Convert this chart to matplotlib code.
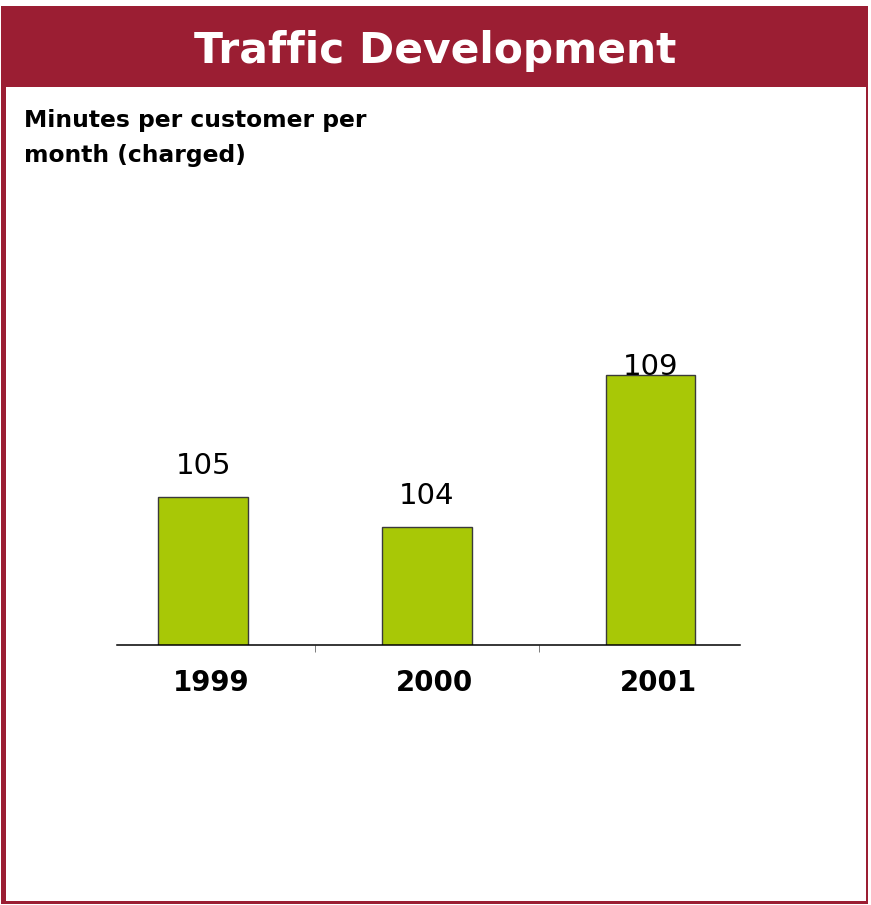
import matplotlib
matplotlib.use('Agg')
import matplotlib.pyplot as plt
from matplotlib.patches import Rectangle
from matplotlib.transforms import ScaledTranslation

years  = ['1999', '2000', '2001']
values = [105, 104, 109]

W, H = 871, 905
RED   = '#9B1E33'
GREEN = '#A8C806'
FONT  = 'DejaVu Sans'

def fx(px): return px / W
def fy(py): return 1 - py / H

fig = plt.figure(figsize=(W / 100, H / 100), dpi=100, facecolor='white')

# frame + header band
fig.patches.append(Rectangle((fx(1), fy(904)), fx(868) - fx(1), fy(6) - fy(904),
                             transform=fig.transFigure, facecolor=RED, edgecolor='none', zorder=-2))
fig.patches.append(Rectangle((fx(6), fy(901)), fx(866) - fx(6), fy(87) - fy(901),
                             transform=fig.transFigure, facecolor='white', edgecolor='none', zorder=-1))
fig.text(fx(435), fy(63), 'Traffic Development', ha='center', va='baseline',
         fontsize=30.5, fontweight='bold', color='white', family=FONT)
fig.text(fx(24), fy(127), 'Minutes per customer per', ha='left', va='baseline',
         fontsize=16.8, fontweight='bold', color='black', family=FONT)
fig.text(fx(24), fy(162), 'month (charged)', ha='left', va='baseline',
         fontsize=16.8, fontweight='bold', color='black', family=FONT)

ax = fig.add_axes([fx(117), fy(645), fx(740) - fx(117), fy(345) - fy(645)])
ax.set_zorder(2)
ax.patch.set_alpha(0)
x = range(len(years))
ax.bar(x, values, width=0.4, color=GREEN, edgecolor='#3A3A3A', linewidth=1.0, zorder=2)
ax.set_xlim(-0.385, 2.40)
ax.set_ylim(100.1, 110)

for s in ['top', 'right', 'left']:
    ax.spines[s].set_visible(False)
ax.spines['bottom'].set_linewidth(1.1)
ax.set_yticks([])
ax.set_xticks(list(x))
ax.set_xticklabels(years, fontsize=19.9, fontweight='bold', family=FONT)
ax.tick_params(axis='x', which='major', length=0, pad=17)
ax.set_xticks([0.5, 1.5], minor=True)
ax.tick_params(axis='x', which='minor', length=5, direction='out', color='#666666')

# year labels sit a little right of the bar centres in the original
shift = ScaledTranslation(8 / 100, 0, fig.dpi_scale_trans)
for lbl in ax.get_xticklabels():
    lbl.set_transform(lbl.get_transform() + shift)

ytop = ax.get_ylim()[1]
for xi, v in zip(x, values):
    ax.text(xi, min(v + 0.75, ytop - 1.0), str(v), ha='center', va='baseline',
            fontsize=21, family=FONT, color='black', zorder=3)

fig.savefig('out.png', dpi=100, facecolor='white')
